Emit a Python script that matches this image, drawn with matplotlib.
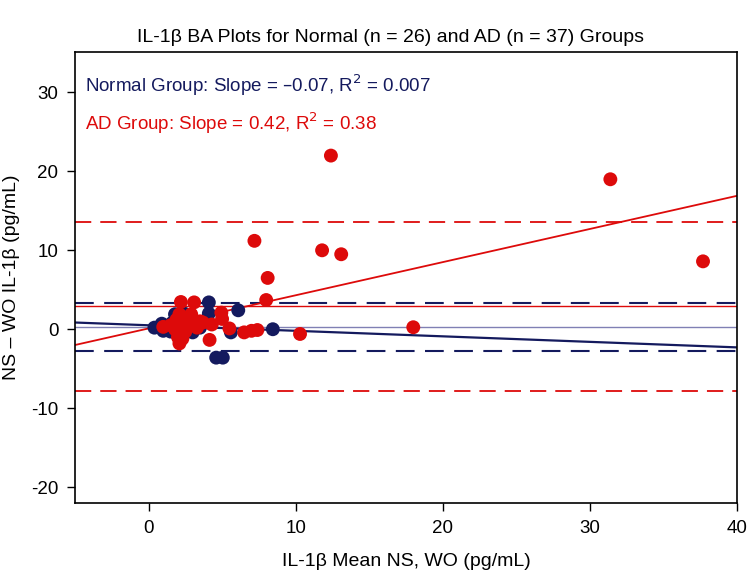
import matplotlib.pyplot as plt
import numpy as np

plt.rcParams["font.family"] = ["Liberation Sans", "DejaVu Sans"]
plt.rcParams["axes.unicode_minus"] = False

# Bland-Altman data
normal_mean = [0.4, 0.9, 1.0, 1.3, 1.5, 1.8, 2.0, 2.1, 2.3, 2.5, 2.7, 3.0, 3.2,
               2.4, 4.1, 4.1, 4.6, 5.05, 5.6, 6.1, 8.45, 1.6, 2.2, 3.5, 2.9, 1.2]
normal_diff = [0.2, 0.7, -0.2, 0.3, -0.3, 1.9, 1.6, 0.5, -0.5, 1.0, 0.0, -0.4, 0.4,
               2.0, 3.4, 2.0, -3.6, -3.6, -0.4, 2.4, 0.0, 0.8, -0.8, 0.2, 1.5, 0.0]

ad_mean = [12.4, 31.4, 37.7, 11.8, 13.1, 18.0, 7.2, 8.1, 8.0, 10.3,
           6.5, 7.0, 7.4, 5.5, 4.95, 5.0, 4.15, 3.7, 4.3, 2.2, 3.1,
           2.1, 2.1, 1.0, 1.5, 1.8, 2.0, 2.2, 2.4, 2.5, 2.7, 2.9, 3.0, 3.3, 2.3, 1.9, 3.5]
ad_diff = [22.0, 19.0, 8.6, 10.0, 9.5, 0.25, 11.2, 6.5, 3.7, -0.6,
           -0.4, -0.2, -0.1, 0.1, 2.1, 1.3, -1.35, 0.85, 0.6, 3.45, 3.4,
           1.9, -1.8, 0.3, 0.5, 0.0, -1.0, 0.8, 1.3, -0.3, 0.5, 1.9, 0.8, 0.2, -1.2, 1.2, 1.0]

# mean bias and limits of agreement
normal_bias, normal_loa = 0.25, (-2.8, 3.3)
ad_bias, ad_loa = 2.9, (-7.8, 13.55)

# regression fits (slope, intercept)
normal_fit = (-0.07, 0.5)
ad_fit = (0.42, 0.1)

navy = "#141a5e"
red = "#dd0a0a"

fig = plt.figure(figsize=(7.47, 5.8), dpi=100)
ax = fig.add_axes([0.1004, 0.133, 0.886, 0.777])

xlim = (-5, 40)
ax.set_xlim(*xlim)
ax.set_ylim(-22, 35.1)

ax.axhline(normal_bias, color="#8080b4", lw=1.0, zorder=1)
ax.axhline(ad_bias, color=red, lw=1.0, zorder=1)
for y in normal_loa:
    ax.axhline(y, color=navy, lw=1.5, dashes=(9, 5), zorder=1)
for y in ad_loa:
    ax.axhline(y, color=red, lw=1.3, dashes=(9, 5), zorder=1)

xs = np.array(xlim)
ax.plot(xs, normal_fit[0] * xs + normal_fit[1], color=navy, lw=1.6, zorder=2)
ax.plot(xs, ad_fit[0] * xs + ad_fit[1], color=red, lw=1.3, zorder=2)

ax.scatter(normal_mean, normal_diff, s=100, color=navy, edgecolors="none", zorder=3)
ax.scatter(ad_mean, ad_diff, s=100, color=red, edgecolors="none", zorder=4)

ax.set_xticks([0, 10, 20, 30, 40])
ax.set_yticks([-20, -10, 0, 10, 20, 30])
ax.tick_params(direction="out", length=6, width=1, labelsize=13.5, pad=6,
               top=False, right=False)
for sp in ax.spines.values():
    sp.set_linewidth(1.2)

ax.set_xlabel("IL-1\u03b2 Mean NS, WO (pg/mL)", fontsize=14, labelpad=12)
ax.set_ylabel("NS \u2013 WO IL-1\u03b2 (pg/mL)", fontsize=14, labelpad=8)

ax.text(0.015, 0.955, "Normal Group: Slope = \u20130.07, R$^2$ = 0.007",
        transform=ax.transAxes, color=navy, fontsize=13.5, va="top")
ax.text(0.015, 0.87, "AD Group: Slope = 0.42, R$^2$ = 0.38",
        transform=ax.transAxes, color=red, fontsize=13.5, va="top")

fig.text(390 / 747, 1 - 38 / 580, "IL-1\u03b2 BA Plots for Normal (n = 26) and AD (n = 37) Groups",
         ha="center", va="center", fontsize=14)

plt.savefig("out.png", dpi=100)
